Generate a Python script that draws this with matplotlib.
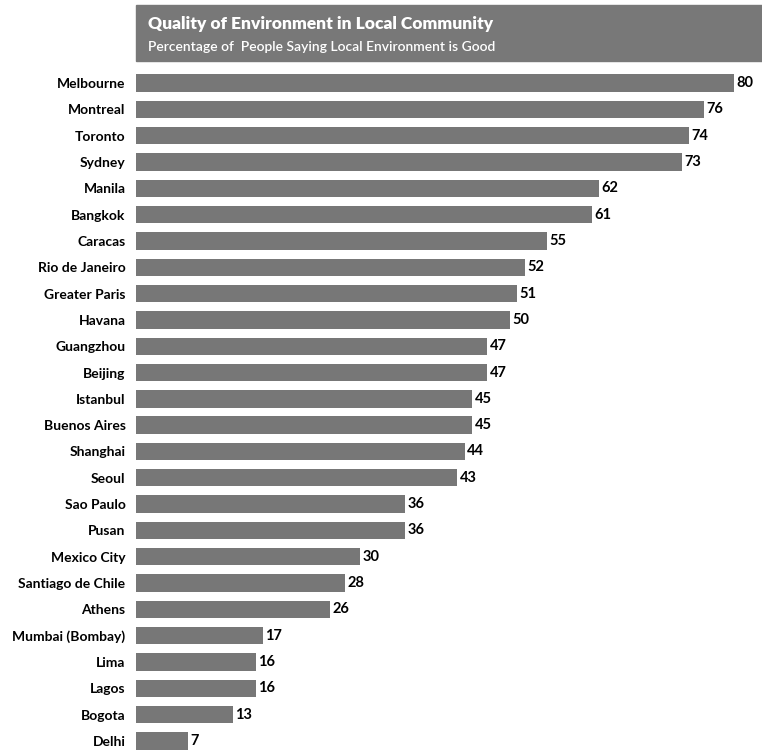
import matplotlib
matplotlib.use("Agg")
import matplotlib.pyplot as plt
from matplotlib.patches import Rectangle

cities = ["Melbourne", "Montreal", "Toronto", "Sydney", "Manila", "Bangkok", "Caracas",
          "Rio de Janeiro", "Greater Paris", "Havana", "Guangzhou", "Beijing", "Istanbul",
          "Buenos Aires", "Shanghai", "Seoul", "Sao Paulo", "Pusan", "Mexico City",
          "Santiago de Chile", "Athens", "Mumbai (Bombay)", "Lima", "Lagos", "Bogota", "Delhi"]
values = [80, 76, 74, 73, 62, 61, 55, 52, 51, 50, 47, 47, 45, 45, 44, 43, 36, 36, 30, 28,
          26, 17, 16, 16, 13, 7]
title = "Quality of Environment in Local Community"
subtitle = "Percentage of  People Saying Local Environment is Good"

W, H = 762, 751
fig = plt.figure(figsize=(W / 100, H / 100), dpi=100)
plt.rcParams['font.family'] = ['Lato', 'DejaVu Sans']

left_px, right_px, top_px, bot_px = 136, 762, 61, 751
ax = fig.add_axes([left_px / W, 1 - bot_px / H, (right_px - left_px) / W, (bot_px - top_px) / H])
color = "#777777"
ypos = list(range(len(cities)))
bars = ax.barh(ypos, values, height=0.66, color=color)
ax.set_xlim(0, (right_px - left_px) / 7.475)
first_c, spacing = 83, 26.32
ax.set_ylim((bot_px - first_c) / spacing, (top_px - first_c) / spacing)
ax.set_yticks(ypos)
ax.set_yticklabels(cities, fontsize=10, fontweight='bold')
ax.tick_params(axis='y', length=0, pad=7.5)
ax.set_xticks([])
for s in ax.spines.values():
    s.set_visible(False)
for b, v in zip(bars, values):
    ax.text(b.get_width() + 0.3, b.get_y() + b.get_height() / 2, str(v), va='center', ha='left',
            fontsize=10.5, fontweight='bold', color='black')

fig.patches.append(Rectangle((136 / W, 1 - 61 / H), (762 - 136) / W, 56 / H,
                             transform=fig.transFigure, color="#787878", zorder=0))
fig.text(148 / W, 1 - 24 / H, title, color='white', fontsize=12.5, fontweight='heavy', va='center', ha='left')
fig.text(148 / W, 1 - 47 / H, subtitle, color='white', fontsize=10, fontweight='semibold', va='center', ha='left')

fig.savefig("out.png", dpi=100)
